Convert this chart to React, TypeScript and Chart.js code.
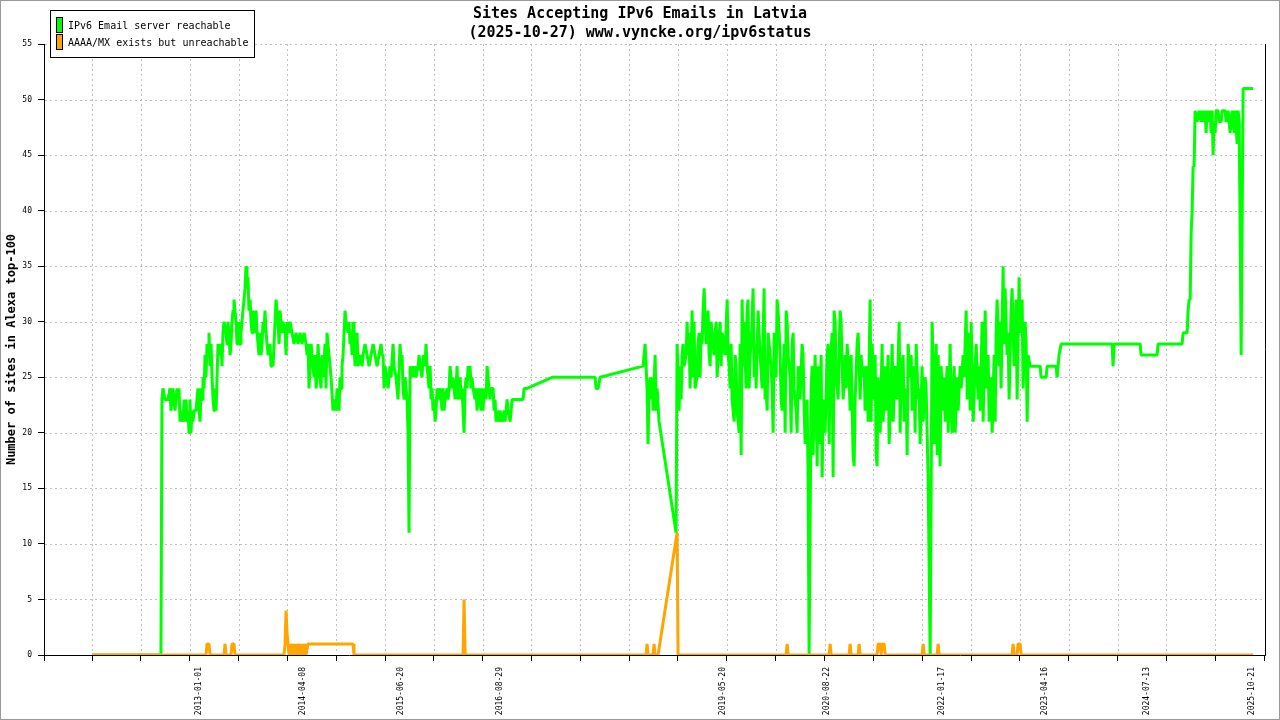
import React, { useEffect, useRef } from 'react';
import { Chart, registerables } from 'chart.js';

Chart.register(...registerables);

const MONO = '"DejaVu Sans Mono", "Liberation Mono", monospace';

const TITLE_LINES = ['Sites Accepting IPv6 Emails in Latvia', '(2025-10-27) www.vyncke.org/ipv6status'];
const Y_TITLE = 'Number of sites in Alexa top-100';
const SERIES_NAMES = ['IPv6 Email server reachable', 'AAAA/MX exists but unreachable'];
const SERIES_COLORS = ['#00ff00', '#ffa500'];

// x axis: time in decimal years
const X_MIN = 2011.121;
const X_MAX = 2025.966;
const X_LABEL_DATES = ['2013-01-01', '2014-04-08', '2015-06-20', '2016-08-29', '2019-05-20', '2020-08-22', '2022-01-17', '2023-04-16', '2024-07-13', '2025-10-21'];
const X_GRID_TICKS = [2011.121, 2011.705, 2012.299, 2012.892, 2013.486, 2014.080, 2014.674, 2015.267, 2015.861, 2016.455, 2017.048, 2017.642, 2018.236, 2018.829, 2019.423, 2020.017, 2020.611, 2021.204, 2021.798, 2022.392, 2022.985, 2023.579, 2024.173, 2024.766, 2025.360, 2025.954];
const Y_MIN = 0;
const Y_MAX = 55;
const Y_STEP = 5;

// IPv6 Email server reachable
const GREEN_DATES = [
  2011.704, 2012.543, 2012.555, 2012.567, 2012.592, 2012.628, 2012.653, 2012.665, 2012.689, 2012.714,
  2012.738, 2012.750, 2012.762, 2012.775, 2012.787, 2012.811, 2012.824, 2012.836, 2012.848, 2012.860,
  2012.872, 2012.884, 2012.896, 2012.908, 2012.920, 2012.932, 2012.945, 2012.969, 2012.981, 2012.993,
  2013.005, 2013.018, 2013.030, 2013.042, 2013.054, 2013.067, 2013.079, 2013.091, 2013.103, 2013.115,
  2013.127, 2013.140, 2013.152, 2013.164, 2013.176, 2013.188, 2013.200, 2013.213, 2013.225, 2013.237,
  2013.261, 2013.273, 2013.285, 2013.297, 2013.310, 2013.334, 2013.346, 2013.358, 2013.370, 2013.383,
  2013.395, 2013.407, 2013.419, 2013.431, 2013.443, 2013.456, 2013.468, 2013.480, 2013.492, 2013.504,
  2013.516, 2013.528, 2013.540, 2013.553, 2013.565, 2013.577, 2013.589, 2013.601, 2013.613, 2013.626,
  2013.638, 2013.650, 2013.662, 2013.675, 2013.687, 2013.699, 2013.711, 2013.723, 2013.735, 2013.748,
  2013.760, 2013.772, 2013.784, 2013.796, 2013.808, 2013.821, 2013.833, 2013.845, 2013.869, 2013.881,
  2013.893, 2013.906, 2013.918, 2013.930, 2013.942, 2013.954, 2013.966, 2013.979, 2013.991, 2014.003,
  2014.015, 2014.027, 2014.052, 2014.064, 2014.076, 2014.100, 2014.112, 2014.136, 2014.161, 2014.185,
  2014.209, 2014.234, 2014.258, 2014.282, 2014.307, 2014.319, 2014.331, 2014.343, 2014.356, 2014.368,
  2014.380, 2014.404, 2014.416, 2014.429, 2014.441, 2014.453, 2014.465, 2014.489, 2014.501, 2014.513,
  2014.538, 2014.550, 2014.562, 2014.574, 2014.599, 2014.611, 2014.635, 2014.647, 2014.672, 2014.684,
  2014.708, 2014.720, 2014.732, 2014.744, 2014.757, 2014.769, 2014.781, 2014.793, 2014.817, 2014.829,
  2014.842, 2014.854, 2014.866, 2014.878, 2014.890, 2014.903, 2014.927, 2014.939, 2014.964, 2014.988,
  2015.000, 2015.024, 2015.049, 2015.073, 2015.097, 2015.122, 2015.146, 2015.170, 2015.194, 2015.219,
  2015.231, 2015.243, 2015.256, 2015.268, 2015.292, 2015.304, 2015.328, 2015.341, 2015.365, 2015.377,
  2015.401, 2015.413, 2015.425, 2015.450, 2015.462, 2015.474, 2015.486, 2015.499, 2015.511, 2015.523,
  2015.535, 2015.547, 2015.559, 2015.572, 2015.584, 2015.596, 2015.608, 2015.632, 2015.645, 2015.669,
  2015.681, 2015.693, 2015.717, 2015.730, 2015.754, 2015.766, 2015.778, 2015.790, 2015.802, 2015.815,
  2015.827, 2015.839, 2015.851, 2015.863, 2015.876, 2015.888, 2015.900, 2015.912, 2015.936, 2015.948,
  2015.961, 2015.973, 2015.985, 2015.997, 2016.021, 2016.033, 2016.046, 2016.058, 2016.070, 2016.082,
  2016.094, 2016.107, 2016.119, 2016.131, 2016.143, 2016.155, 2016.180, 2016.192, 2016.204, 2016.216,
  2016.228, 2016.241, 2016.253, 2016.265, 2016.277, 2016.289, 2016.301, 2016.313, 2016.325, 2016.338,
  2016.362, 2016.374, 2016.386, 2016.411, 2016.423, 2016.435, 2016.447, 2016.459, 2016.472, 2016.496,
  2016.508, 2016.520, 2016.532, 2016.544, 2016.556, 2016.581, 2016.593, 2016.605, 2016.617, 2016.629,
  2016.654, 2016.666, 2016.690, 2016.715, 2016.727, 2016.751, 2016.763, 2016.788, 2016.812, 2016.945,
  2016.958, 2016.994, 2017.298, 2017.821, 2017.833, 2017.858, 2017.882, 2018.404, 2018.429, 2018.441,
  2018.453, 2018.465, 2018.477, 2018.490, 2018.502, 2018.514, 2018.526, 2018.551, 2018.563, 2018.575,
  2018.599, 2018.806, 2018.818, 2018.842, 2018.855, 2018.867, 2018.879, 2018.891, 2018.903, 2018.928,
  2018.940, 2018.952, 2018.964, 2018.976, 2018.988, 2019.001, 2019.013, 2019.025, 2019.037, 2019.061,
  2019.073, 2019.086, 2019.098, 2019.110, 2019.122, 2019.134, 2019.147, 2019.159, 2019.171, 2019.195,
  2019.207, 2019.220, 2019.232, 2019.256, 2019.268, 2019.281, 2019.293, 2019.305, 2019.317, 2019.341,
  2019.353, 2019.366, 2019.390, 2019.402, 2019.427, 2019.439, 2019.451, 2019.463, 2019.475, 2019.487,
  2019.512, 2019.524, 2019.536, 2019.548, 2019.573, 2019.584, 2019.597, 2019.609, 2019.621, 2019.633,
  2019.657, 2019.669, 2019.681, 2019.694, 2019.706, 2019.718, 2019.730, 2019.742, 2019.755, 2019.767,
  2019.779, 2019.803, 2019.815, 2019.828, 2019.852, 2019.876, 2019.888, 2019.900, 2019.913, 2019.925,
  2019.949, 2019.961, 2019.973, 2019.986, 2019.998, 2020.022, 2020.034, 2020.046, 2020.059, 2020.071,
  2020.083, 2020.095, 2020.120, 2020.132, 2020.144, 2020.156, 2020.168, 2020.192, 2020.205, 2020.217,
  2020.229, 2020.241, 2020.265, 2020.278, 2020.290, 2020.314, 2020.338, 2020.350, 2020.363, 2020.375,
  2020.399, 2020.411, 2020.423, 2020.448, 2020.460, 2020.472, 2020.496, 2020.509, 2020.521, 2020.533,
  2020.557, 2020.569, 2020.582, 2020.594, 2020.618, 2020.642, 2020.654, 2020.667, 2020.679, 2020.703,
  2020.715, 2020.727, 2020.740, 2020.752, 2020.776, 2020.800, 2020.812, 2020.825, 2020.837, 2020.861,
  2020.873, 2020.885, 2020.910, 2020.922, 2020.934, 2020.958, 2020.971, 2020.983, 2021.007, 2021.019,
  2021.044, 2021.056, 2021.068, 2021.092, 2021.104, 2021.129, 2021.141, 2021.165, 2021.177, 2021.189,
  2021.202, 2021.214, 2021.226, 2021.238, 2021.250, 2021.262, 2021.287, 2021.311, 2021.323, 2021.348,
  2021.360, 2021.384, 2021.396, 2021.420, 2021.433, 2021.445, 2021.469, 2021.493, 2021.518, 2021.530,
  2021.542, 2021.566, 2021.579, 2021.603, 2021.615, 2021.627, 2021.652, 2021.664, 2021.676, 2021.700,
  2021.712, 2021.725, 2021.749, 2021.761, 2021.773, 2021.797, 2021.810, 2021.834, 2021.846, 2021.858,
  2021.870, 2021.895, 2021.919, 2021.931, 2021.943, 2021.968, 2021.980, 2021.992, 2022.016, 2022.028,
  2022.053, 2022.065, 2022.077, 2022.101, 2022.114, 2022.138, 2022.150, 2022.162, 2022.187, 2022.199,
  2022.223, 2022.235, 2022.260, 2022.272, 2022.296, 2022.308, 2022.333, 2022.345, 2022.369, 2022.381,
  2022.393, 2022.418, 2022.442, 2022.454, 2022.478, 2022.491, 2022.503, 2022.527, 2022.539, 2022.564,
  2022.576, 2022.600, 2022.612, 2022.636, 2022.649, 2022.673, 2022.685, 2022.697, 2022.709, 2022.733,
  2022.745, 2022.757, 2022.782, 2022.794, 2022.806, 2022.830, 2022.842, 2022.855, 2022.879, 2022.891,
  2022.916, 2022.940, 2022.952, 2022.976, 2022.989, 2023.013, 2023.025, 2023.049, 2023.062, 2023.074,
  2023.086, 2023.110, 2023.232, 2023.244, 2023.305, 2023.317, 2023.426, 2023.438, 2023.450, 2023.462,
  2023.487, 2024.107, 2024.119, 2024.132, 2024.448, 2024.460, 2024.654, 2024.666, 2024.958, 2024.971,
  2025.019, 2025.031, 2025.043, 2025.056, 2025.068, 2025.080, 2025.092, 2025.104, 2025.116, 2025.141,
  2025.165, 2025.189, 2025.202, 2025.226, 2025.238, 2025.250, 2025.262, 2025.287, 2025.299, 2025.311,
  2025.323, 2025.335, 2025.347, 2025.360, 2025.372, 2025.396, 2025.408, 2025.433, 2025.445, 2025.481,
  2025.493, 2025.518, 2025.542, 2025.566, 2025.591, 2025.603, 2025.627, 2025.639, 2025.652, 2025.664,
  2025.676, 2025.700, 2025.822,
];
const GREEN_VALUES = [
  0, 0, 23, 24, 23, 23, 24, 22, 24, 22,
  24, 23, 24, 21, 22, 21, 23, 21, 23, 21,
  22, 20, 23, 20, 22, 21, 22, 22, 23, 24,
  22, 21, 24, 23, 25, 24, 27, 25, 28, 27,
  29, 26, 28, 25, 23, 22, 24, 22, 25, 28,
  27, 28, 26, 29, 30, 29, 28, 30, 29, 27,
  28, 30, 31, 32, 31, 30, 28, 28, 30, 28,
  29, 30, 31, 32, 33, 35, 33, 34, 31, 32,
  30, 29, 31, 30, 29, 31, 29, 28, 27, 29,
  27, 28, 30, 29, 31, 29, 28, 27, 28, 26,
  27, 26, 28, 30, 32, 31, 30, 28, 31, 30,
  29, 30, 29, 27, 30, 29, 30, 29, 28, 29,
  28, 29, 28, 29, 28, 27, 28, 24, 26, 28,
  27, 25, 27, 24, 25, 28, 26, 24, 27, 25,
  28, 24, 29, 28, 26, 25, 22, 23, 22, 24,
  22, 25, 24, 26, 27, 29, 31, 30, 29, 30,
  28, 29, 27, 30, 28, 26, 29, 26, 27, 26,
  27, 28, 27, 26, 27, 28, 27, 26, 27, 28,
  27, 27, 24, 26, 25, 24, 26, 25, 28, 26,
  25, 24, 23, 28, 26, 27, 24, 23, 25, 24,
  23, 20, 11, 26, 25, 26, 25, 26, 25, 26,
  27, 26, 25, 27, 26, 28, 26, 25, 24, 26,
  23, 24, 22, 23, 21, 22, 24, 23, 24, 23,
  22, 24, 22, 23, 24, 23, 24, 26, 25, 24,
  25, 24, 23, 24, 26, 23, 25, 23, 24, 22,
  20, 24, 25, 24, 26, 25, 26, 24, 25, 24,
  23, 24, 22, 24, 23, 22, 24, 22, 24, 23,
  26, 25, 24, 23, 24, 24, 22, 23, 21, 22,
  21, 22, 21, 22, 21, 23, 22, 21, 23, 23,
  24, 24, 25, 25, 24, 24, 25, 26, 28, 26,
  24, 19, 24, 25, 23, 25, 22, 27, 22, 24,
  21, 11, 28, 22, 26, 23, 27, 28, 26, 27,
  30, 27, 29, 24, 27, 31, 25, 30, 24, 25,
  28, 29, 25, 29, 28, 31, 33, 30, 28, 31,
  27, 26, 30, 28, 27, 29, 30, 25, 27, 30,
  26, 29, 28, 27, 32, 27, 26, 24, 28, 23,
  21, 27, 26, 22, 20, 28, 18, 32, 26, 30,
  24, 31, 32, 24, 27, 28, 30, 33, 25, 28,
  24, 31, 29, 27, 24, 33, 23, 24, 22, 29,
  27, 26, 24, 20, 29, 25, 32, 31, 29, 27,
  23, 22, 28, 20, 31, 30, 27, 25, 20, 28,
  29, 24, 22, 20, 26, 23, 28, 27, 22, 19,
  23, 16, 0, 24, 26, 18, 27, 23, 17, 26,
  19, 27, 16, 23, 20, 27, 28, 19, 26, 29,
  16, 31, 30, 25, 23, 31, 30, 26, 23, 27,
  24, 28, 25, 22, 27, 18, 17, 23, 28, 29,
  23, 27, 25, 26, 22, 26, 21, 32, 21, 28,
  26, 23, 27, 18, 17, 25, 20, 28, 21, 26,
  22, 27, 19, 24, 28, 21, 26, 23, 30, 20,
  25, 27, 21, 24, 18, 28, 25, 27, 22, 26,
  20, 28, 23, 24, 19, 26, 21, 25, 24, 20,
  16, 0, 30, 26, 19, 28, 18, 27, 17, 26,
  22, 25, 21, 26, 20, 28, 22, 20, 26, 20,
  25, 22, 26, 24, 27, 25, 31, 23, 29, 22,
  30, 21, 26, 28, 23, 26, 22, 30, 21, 31,
  24, 27, 21, 25, 20, 27, 21, 29, 32, 26,
  30, 24, 35, 28, 33, 27, 29, 23, 31, 33,
  26, 32, 23, 34, 29, 32, 24, 30, 28, 21,
  27, 26, 26, 25, 25, 26, 26, 25, 26, 27,
  28, 28, 26, 28, 28, 27, 27, 28, 28, 29,
  29, 31, 32, 32, 38, 40, 44, 44, 49, 48,
  49, 48, 49, 48, 49, 47, 49, 48, 49, 47,
  49, 45, 48, 47, 49, 49, 48, 48, 49, 49,
  48, 49, 47, 49, 47, 49, 46, 49, 48, 38,
  27, 51, 51,
];

// AAAA/MX exists but unreachable
const ORANGE_DATES = [
  2011.704, 2013.091, 2013.103, 2013.127, 2013.140, 2013.310, 2013.322, 2013.334, 2013.395, 2013.407,
  2013.431, 2013.443, 2014.039, 2014.052, 2014.064, 2014.076, 2014.088, 2014.100, 2014.112, 2014.124,
  2014.149, 2014.161, 2014.185, 2014.197, 2014.222, 2014.234, 2014.258, 2014.270, 2014.295, 2014.307,
  2014.331, 2014.878, 2014.890, 2016.216, 2016.228, 2016.241, 2018.441, 2018.453, 2018.465, 2018.526,
  2018.538, 2018.551, 2018.587, 2018.818, 2018.830, 2020.144, 2020.156, 2020.168, 2020.667, 2020.679,
  2020.691, 2020.910, 2020.922, 2020.934, 2021.019, 2021.031, 2021.044, 2021.250, 2021.262, 2021.287,
  2021.299, 2021.311, 2021.335, 2021.348, 2021.797, 2021.810, 2021.822, 2021.980, 2021.992, 2022.004,
  2022.891, 2022.903, 2022.916, 2022.952, 2022.964, 2022.989, 2023.001, 2025.822,
];
const ORANGE_VALUES = [
  0, 0, 1, 1, 0, 0, 1, 0, 0, 1,
  1, 0, 0, 1, 4, 2, 1, 0, 1, 0,
  1, 0, 1, 0, 1, 0, 1, 0, 1, 0,
  1, 1, 0, 0, 5, 0, 0, 1, 0, 0,
  1, 0, 0, 11, 0, 0, 1, 0, 0, 1,
  0, 0, 1, 0, 0, 1, 0, 0, 1, 1,
  0, 1, 1, 0, 0, 1, 0, 0, 1, 0,
  0, 1, 0, 0, 1, 1, 0, 0,
];

function toYear(d: string): number {
  const [y, m, day] = d.split('-').map(Number);
  const start = Date.UTC(y, 0, 1);
  const end = Date.UTC(y + 1, 0, 1);
  return y + (Date.UTC(y, m - 1, day) - start) / (end - start);
}

const X_LABEL_VALUES = X_LABEL_DATES.map(toYear);

function labelIndex(v: number): number {
  return X_LABEL_VALUES.findIndex((lv) => Math.abs(lv - v) < 1e-9);
}

const decorPlugin = {
  id: 'decor',
  beforeDraw(chart: any) {
    const { ctx, width, height } = chart;
    ctx.save();
    ctx.fillStyle = '#ffffff';
    ctx.fillRect(0, 0, width, height);
    ctx.restore();
  },
  beforeDatasetsDraw(chart: any) {
    const { ctx, chartArea, scales } = chart;
    const { left, right, top, bottom } = chartArea;
    ctx.save();
    ctx.strokeStyle = '#c0c0c0';
    ctx.lineWidth = 1;
    ctx.setLineDash([2, 3]);
    for (let v = Y_MIN + Y_STEP; v <= Y_MAX; v += Y_STEP) {
      const py = Math.round(scales.y.getPixelForValue(v)) + 0.5;
      ctx.beginPath();
      ctx.moveTo(left + 1, py);
      ctx.lineTo(right, py);
      ctx.stroke();
    }
    X_GRID_TICKS.forEach((t) => {
      const px = Math.round(scales.x.getPixelForValue(t)) + 0.5;
      if (px > left + 2 && px < right - 2) {
        ctx.beginPath();
        ctx.moveTo(px, top);
        ctx.lineTo(px, bottom - 1);
        ctx.stroke();
      }
    });
    ctx.restore();
  },
  afterDraw(chart: any) {
    const { ctx, chartArea, width, height } = chart;
    ctx.save();
    // right frame of the plot
    ctx.strokeStyle = '#000000';
    ctx.lineWidth = 1;
    ctx.beginPath();
    ctx.moveTo(Math.round(chartArea.right) + 0.5, chartArea.top);
    ctx.lineTo(Math.round(chartArea.right) + 0.5, chartArea.bottom);
    ctx.stroke();

    // title
    ctx.fillStyle = '#000000';
    ctx.font = `bold 15px ${MONO}`;
    ctx.textAlign = 'center';
    ctx.textBaseline = 'middle';
    ctx.fillText(TITLE_LINES[0], width / 2, 14);
    ctx.fillText(TITLE_LINES[1], width / 2, 33);

    // legend
    ctx.fillStyle = '#ffffff';
    ctx.fillRect(50, 10, 205, 48);
    ctx.strokeStyle = '#000000';
    ctx.strokeRect(50.5, 10.5, 204, 47);
    const rows = [25, 42];
    SERIES_NAMES.forEach((name, i) => {
      ctx.fillStyle = SERIES_COLORS[i];
      ctx.fillRect(57, rows[i] - 7, 5, 14);
      ctx.strokeStyle = '#000000';
      ctx.strokeRect(56.5, rows[i] - 7.5, 6, 15);
      ctx.fillStyle = '#000000';
      ctx.font = `10px ${MONO}`;
      ctx.textAlign = 'left';
      ctx.textBaseline = 'middle';
      ctx.fillText(name, 68, rows[i] + 1);
    });

    // outer frame
    ctx.strokeStyle = '#999999';
    ctx.strokeRect(0.5, 0.5, width - 1, height - 1);
    ctx.restore();
  },
};

export default function App() {
  const canvasRef = useRef<HTMLCanvasElement>(null);

  useEffect(() => {
    document.body.style.margin = '0';
    const canvas = canvasRef.current;
    if (!canvas) return;

    const chart = new Chart(canvas, {
      type: 'line',
      data: {
        datasets: [
          {
            label: SERIES_NAMES[0],
            data: GREEN_DATES.map((x, i) => ({ x, y: GREEN_VALUES[i] })),
            borderColor: SERIES_COLORS[0],
            backgroundColor: SERIES_COLORS[0],
            borderWidth: 3,
            pointRadius: 0,
            tension: 0,
            fill: false,
            borderJoinStyle: 'bevel',
            order: 2,
          },
          {
            label: SERIES_NAMES[1],
            data: ORANGE_DATES.map((x, i) => ({ x, y: ORANGE_VALUES[i] })),
            borderColor: SERIES_COLORS[1],
            backgroundColor: SERIES_COLORS[1],
            borderWidth: 3,
            pointRadius: 0,
            tension: 0,
            fill: false,
            borderJoinStyle: 'bevel',
            order: 1,
          },
        ],
      } as any,
      options: {
        animation: false,
        responsive: false,
        devicePixelRatio: 1,
        events: [],
        layout: { padding: { left: 0, right: 15, top: 44, bottom: 0 } },
        plugins: {
          legend: { display: false },
          title: { display: false },
          tooltip: { enabled: false },
        },
        scales: {
          x: {
            type: 'linear',
            min: X_MIN,
            max: X_MAX,
            afterBuildTicks: (scale: any) => {
              scale.ticks = [...X_GRID_TICKS, ...X_LABEL_VALUES].map((v) => ({ value: v }));
            },
            afterFit: (scale: any) => {
              scale.height = 65;
            },
            ticks: {
              autoSkip: false,
              minRotation: 90,
              maxRotation: 90,
              padding: 6,
              color: '#000000',
              font: { family: MONO, size: 8 },
              callback: (value: any) => {
                const i = labelIndex(Number(value));
                return i >= 0 ? X_LABEL_DATES[i] : '';
              },
            },
            grid: {
              display: true,
              drawOnChartArea: false,
              drawTicks: true,
              tickLength: 6,
              tickWidth: 1,
              tickColor: (c: any) => (c.tick && labelIndex(c.tick.value) >= 0 ? 'rgba(0,0,0,0)' : '#000000'),
            },
            border: { display: true, color: '#000000', width: 1 },
          },
          y: {
            type: 'linear',
            min: Y_MIN,
            max: Y_MAX,
            afterFit: (scale: any) => {
              scale.width = 44;
            },
            ticks: {
              stepSize: Y_STEP,
              padding: 6,
              color: '#000000',
              font: { family: MONO, size: 8 },
            },
            grid: {
              display: true,
              drawOnChartArea: false,
              drawTicks: true,
              tickLength: 6,
              tickWidth: 1,
              tickColor: '#000000',
            },
            border: { display: true, color: '#000000', width: 1 },
            title: {
              display: true,
              text: Y_TITLE,
              color: '#000000',
              font: { family: MONO, size: 12, weight: 'bold' },
              padding: { top: 5, bottom: 0 },
            },
          },
        },
      } as any,
      plugins: [decorPlugin],
    });

    return () => chart.destroy();
  }, []);

  return (
    <div style={{ position: 'absolute', left: 0, top: 0, width: 1280, height: 720 }}>
      <canvas ref={canvasRef} width={1280} height={720} style={{ display: 'block', width: 1280, height: 720 }} />
    </div>
  );
}
